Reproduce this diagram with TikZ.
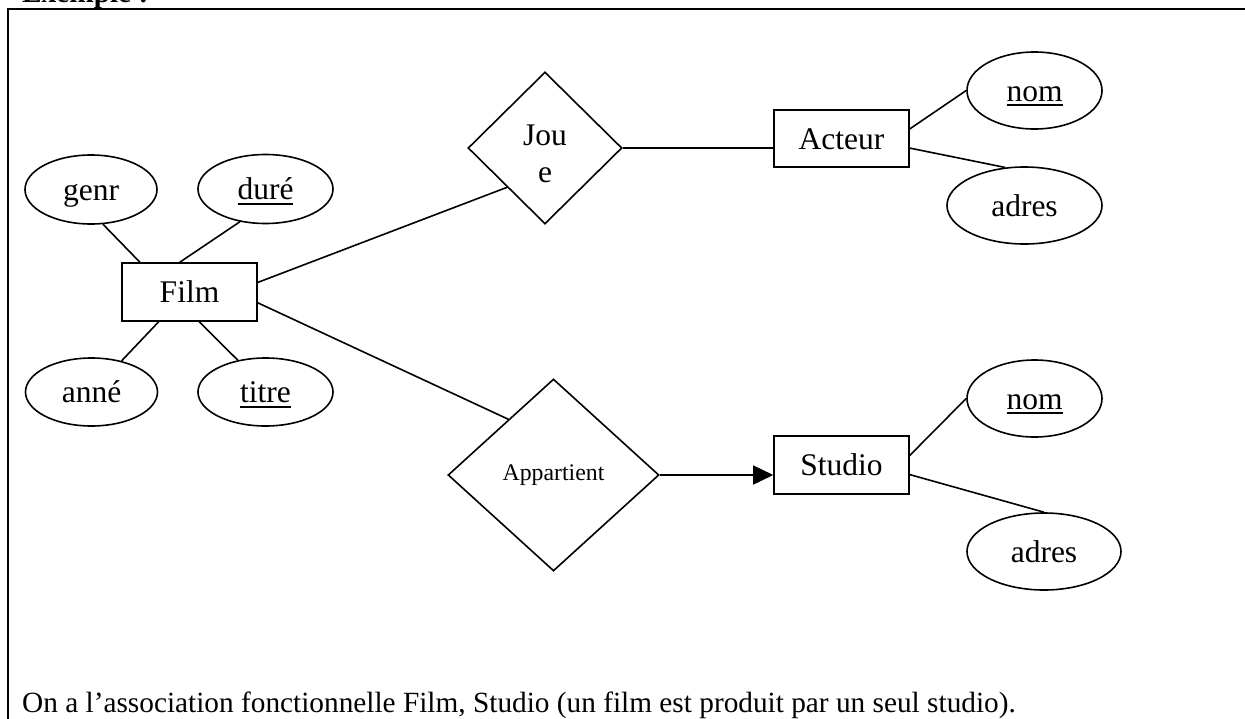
\documentclass[tikz,border=0pt]{standalone}
\usepackage{fontspec}
\setmainfont{Liberation Serif}
\usetikzlibrary{shapes.geometric,arrows.meta}
\newsavebox\myulbox
\newcommand{\myul}[1]{\sbox\myulbox{#1}\rlap{\rule[-5pt]{\wd\myulbox}{1.8pt}}\usebox\myulbox}
\begin{document}
\begin{tikzpicture}[x=1pt,y=-1pt,
  every node/.style={inner sep=0pt, font=\fontsize{31.5}{37}\selectfont},
  ent/.style={draw, line width=1.6pt, rectangle, minimum width=135pt, minimum height=58pt, text height=21pt, text depth=0pt},
  attr/.style={draw, line width=1.6pt, ellipse, text height=21pt, text depth=0pt},
  rel/.style={draw, line width=1.6pt, diamond},
  link/.style={line width=1.6pt},
  plain/.style={anchor=base west, font=\fontsize{29.3}{34}\selectfont}]
\useasboundingbox (0,0) rectangle (1245,718);
% frame
\draw[line width=2pt] (7.5,730) -- (7.5,9) -- (1260,9);
\node[plain, font=\fontsize{29.3}{34}\selectfont\bfseries] (title) at (22,2) {Exemple :};
% entities and attributes
\node[ent] (film) at (189.5,292) {Film};
\node[attr, minimum width=132pt, minimum height=69pt] (genr) at (91,189.5) {genr};
\node[attr, minimum width=135pt, minimum height=69pt] (dure) at (265.5,189) {\myul{duré}};
\node[attr, minimum width=132pt, minimum height=68pt] (anne) at (91.5,392) {anné};
\node[attr, minimum width=135pt, minimum height=68pt] (titre) at (265.5,392) {\myul{titre}};
\node[rel, minimum width=154pt, minimum height=152pt, align=center] (joue) at (545,148) {\raisebox{-5pt}[21pt][0pt]{Jou}\\\raisebox{-5pt}[14pt][0pt]{e}};
\node[ent, minimum height=57pt] (acteur) at (841.5,138.5) {Acteur};
\node[attr, minimum width=135pt, minimum height=77pt] (nomA) at (1034.5,90.5) {\myul{nom}};
\node[attr, minimum width=155pt, minimum height=77pt] (adresA) at (1024.5,205.5) {adres};
\node[rel, minimum width=211pt, minimum height=192pt, font=\fontsize{23.8}{28}\selectfont] (app) at (553.5,475) {Appartient};
\node[ent] (studio) at (841.5,465) {Studio};
\node[attr, minimum width=135pt, minimum height=77pt] (nomS) at (1034.5,398.5) {\myul{nom}};
\node[attr, minimum width=154pt, minimum height=77pt] (adresS) at (1044,551.5) {adres};
% connectors
\draw[link] (genr.-71) -- (film.149);
\draw[link] (dure.-128) -- (film.108);
\draw[link] (anne.46) -- (film.-136);
\draw[link] (titre.131) -- (film.-72);
\draw[link] (film.8) -- (joue.-134);
\draw[link] (film.-9) -- (app.129);
\draw[link] (joue.east) -- (joue.east -| acteur.west);
\draw[link] (acteur.8) -- (nomA.west);
\draw[link] (acteur.-8) -- (adresA.117);
\draw[link, -{Triangle[length=20pt,width=19pt]}] (app.east) -- (app.east -| studio.west);
\draw[link] (studio.8) -- (nomS.west);
\draw[link] (studio.-8) -- (adresS.north);
% caption
\node[plain] (caption) at (22,712) {On a l’association fonctionnelle Film, Studio (un film est produit par un seul studio).};
\end{tikzpicture}
\end{document}
